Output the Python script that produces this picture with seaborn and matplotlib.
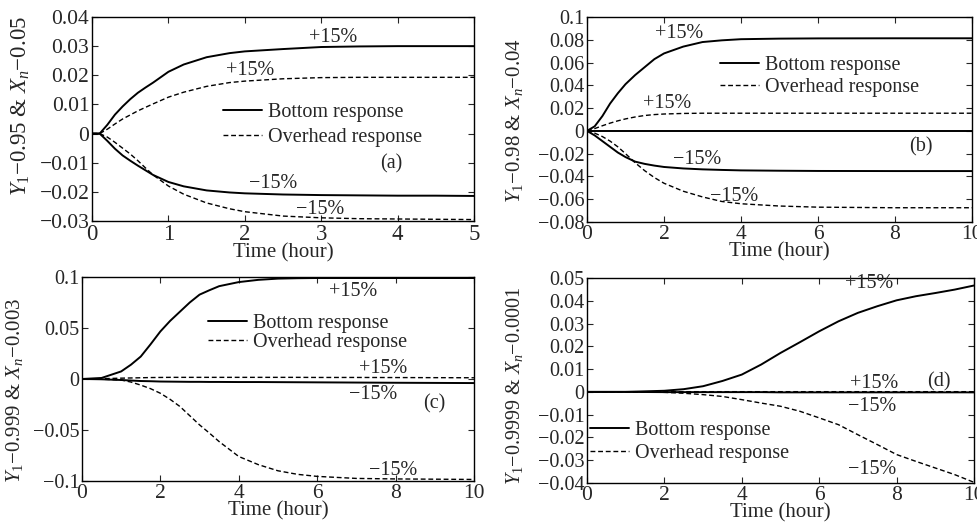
import matplotlib
matplotlib.use("Agg")
import matplotlib.pyplot as plt
import seaborn as sns

# ---------------- data ----------------
# Panel (a)
ta = [0, 0.1, 0.2, 0.3, 0.4, 0.5, 0.6, 0.7, 0.8, 1.0, 1.2, 1.5, 1.8, 2.0, 2.5, 3.0, 3.5, 4.0, 4.5, 5.0]
a_bot_p = [0, 0, 0.003, 0.0065, 0.0093, 0.0118, 0.014, 0.0158, 0.0175, 0.0212, 0.0237, 0.0262, 0.0276, 0.0282, 0.029, 0.0297, 0.0299, 0.030, 0.030, 0.030]
a_ovh_p = [0, 0, 0.0015, 0.0033, 0.0050, 0.0064, 0.0078, 0.0090, 0.0102, 0.0125, 0.0142, 0.0162, 0.0175, 0.0180, 0.0188, 0.0192, 0.0193, 0.0193, 0.0193, 0.0193]
a_bot_m = [0, 0, -0.0025, -0.0052, -0.0075, -0.0093, -0.011, -0.0126, -0.0142, -0.0166, -0.0181, -0.0195, -0.0202, -0.0205, -0.0209, -0.0211, -0.0212, -0.0213, -0.0213, -0.0214]
a_ovh_m = [0, 0, -0.0012, -0.0030, -0.0050, -0.0070, -0.0093, -0.0118, -0.0142, -0.0180, -0.0208, -0.0238, -0.0258, -0.0268, -0.0283, -0.0289, -0.0292, -0.0293, -0.0294, -0.0295]

# Panel (b)
tb = [0, 0.2, 0.4, 0.6, 0.8, 1.0, 1.25, 1.5, 1.75, 2.0, 2.5, 3.0, 3.5, 4.0, 5.0, 6.0, 8.0, 10.0]
b_bot_p = [0, 0.004, 0.013, 0.024, 0.033, 0.041, 0.049, 0.056, 0.063, 0.068, 0.074, 0.078, 0.0795, 0.0805, 0.081, 0.0812, 0.0813, 0.0813]
b_ovh_p = [0, 0.002, 0.0045, 0.0068, 0.0088, 0.0105, 0.0122, 0.0135, 0.0143, 0.0148, 0.0153, 0.0155, 0.0155, 0.0155, 0.0155, 0.0155, 0.0155, 0.0155]
b_bot_m = [0, -0.004, -0.009, -0.014, -0.019, -0.023, -0.027, -0.029, -0.0305, -0.0317, -0.0330, -0.0338, -0.0343, -0.0347, -0.035, -0.0352, -0.0353, -0.0353]
b_ovh_m = [0, -0.002, -0.005, -0.009, -0.014, -0.020, -0.028, -0.035, -0.041, -0.046, -0.053, -0.058, -0.062, -0.064, -0.066, -0.067, -0.0675, -0.0675]
b_zero = [0] * len(tb)

# Panel (c)
tc = [0, 0.5, 1.0, 1.25, 1.5, 1.75, 2.0, 2.25, 2.5, 2.75, 3.0, 3.25, 3.5, 4.0, 4.5, 5.0, 5.5, 6.0, 7.0, 8.0, 10.0]
c_bot_p = [0, 0.001, 0.0074, 0.014, 0.022, 0.034, 0.0466, 0.057, 0.066, 0.075, 0.0827, 0.087, 0.091, 0.095, 0.0972, 0.0984, 0.0988, 0.099, 0.099, 0.099, 0.099]
c_ovh_p = [0, 0.0003, 0.0008, 0.001, 0.0012, 0.0014, 0.0015, 0.0016, 0.0016, 0.0016, 0.0016, 0.0016, 0.0016, 0.0016, 0.0016, 0.0016, 0.0016, 0.0015, 0.0015, 0.0014, 0.0012]
c_bot_m = [0, -0.0003, -0.001, -0.0015, -0.002, -0.0022, -0.0025, -0.0026, -0.0027, -0.0028, -0.0028, -0.0029, -0.0029, -0.003, -0.003, -0.0031, -0.0032, -0.0033, -0.0035, -0.0037, -0.004]
c_ovh_m = [0, -0.0002, -0.001, -0.003, -0.006, -0.0095, -0.014, -0.020, -0.027, -0.036, -0.045, -0.053, -0.0614, -0.076, -0.084, -0.090, -0.0935, -0.0955, -0.0975, -0.098, -0.0985]

# Panel (d)
td = [0, 1.0, 2.0, 2.5, 3.0, 3.5, 4.0, 4.5, 5.0, 5.5, 6.0, 6.5, 7.0, 7.5, 8.0, 8.5, 9.0, 9.5, 10.0]
d_bot_p = [0, 0, 0.0005, 0.0012, 0.0025, 0.0048, 0.0076, 0.012, 0.0171, 0.0218, 0.0266, 0.031, 0.0347, 0.0376, 0.0402, 0.042, 0.0434, 0.0449, 0.0467]
d_ovh_p = [0, 0, 0.0001, 0.0001, 0.0001, 0.0001, 0.0001, 0.0001, 0.0001, 0.0001, 0.0001, 0.0001, 0.0001, 0.0001, 0.0001, 0.0001, 0.0001, 0.0001, 0.0001]
d_bot_m = [0, 0, -0.0001, -0.0001, -0.0001, -0.0001, -0.0001, -0.0001, -0.0002, -0.0002, -0.0002, -0.0002, -0.0002, -0.0002, -0.0002, -0.0002, -0.0002, -0.0002, -0.0002]
d_ovh_m = [0, 0, -0.0002, -0.0006, -0.0012, -0.002, -0.0034, -0.0049, -0.0063, -0.0085, -0.0114, -0.0144, -0.0188, -0.0231, -0.0275, -0.0305, -0.0334, -0.0363, -0.0397]

# ticks
M = "\u2212"
a_yticks = [-0.03, -0.02, -0.01, 0, 0.01, 0.02, 0.03, 0.04]
a_ylabels = [M + "0.03", M + "0.02", M + "0.01", "0", "0.01", "0.02", "0.03", "0.04"]
a_xticks = [0, 1, 2, 3, 4, 5]
b_yticks = [-0.08, -0.06, -0.04, -0.02, 0, 0.02, 0.04, 0.06, 0.08, 0.1]
b_ylabels = [M + "0.08", M + "0.06", M + "0.04", M + "0.02", "0", "0.02", "0.04", "0.06", "0.08", "0.1"]
c_yticks = [-0.1, -0.05, 0, 0.05, 0.1]
c_ylabels = [M + "0.1", M + "0.05", "0", "0.05", "0.1"]
d_yticks = [-0.04, -0.03, -0.02, -0.01, 0, 0.01, 0.02, 0.03, 0.04, 0.05]
d_ylabels = [M + "0.04", M + "0.03", M + "0.02", M + "0.01", "0", "0.01", "0.02", "0.03", "0.04", "0.05"]
x10_ticks = [0, 2, 4, 6, 8, 10]

ylabels = ["$Y_1$" + M + "0.95 & $X_n$" + M + "0.05",
           "$Y_1$" + M + "0.98 & $X_n$" + M + "0.04",
           "$Y_1$" + M + "0.999 & $X_n$" + M + "0.003",
           "$Y_1$" + M + "0.9999 & $X_n$" + M + "0.0001"]
xlabel = "Time (hour)"
legend_labels = ["Bottom response", "Overhead response"]
panel_tags = ["(a)", "(b)", "(c)", "(d)"]
plus, minus = "+15%", M + "15%"

# ---------------- style ----------------
sns.set_style("ticks")
plt.rcParams["font.family"] = ["Liberation Serif", "DejaVu Serif"]
plt.rcParams["mathtext.fontset"] = "custom"
plt.rcParams["mathtext.rm"] = "Liberation Serif"
plt.rcParams["mathtext.it"] = "Liberation Serif:italic"

fig = plt.figure(figsize=(9.78, 5.26), dpi=100)
ax_a = fig.add_axes([0.0941, 0.5798, 0.3906, 0.3879])
ax_b = fig.add_axes([0.6002, 0.5780, 0.3937, 0.3897])
ax_c = fig.add_axes([0.0838, 0.0856, 0.4008, 0.3878])
ax_d = fig.add_axes([0.6002, 0.0817, 0.3957, 0.3898])

DASHES = (3.5, 2.0)


def draw(ax, t, bp, op, bm, om):
    sns.lineplot(x=t, y=bp, ax=ax, color="black", linewidth=1.4, label=legend_labels[0])
    sns.lineplot(x=t, y=op, ax=ax, color="black", linewidth=1.0, label=legend_labels[1])
    ax.lines[-1].set_dashes(DASHES)
    sns.lineplot(x=t, y=bm, ax=ax, color="black", linewidth=1.4)
    sns.lineplot(x=t, y=om, ax=ax, color="black", linewidth=1.0)
    ax.lines[-1].set_dashes(DASHES)


def finish(ax, xlim, ylim, xt, yt, yl, tfs, ylab, yfs, labxy, legxy, legsp, tag, tagxy, annots):
    ax.set_xlim(*xlim)
    ax.set_ylim(*ylim)
    ax.set_xticks(xt)
    ax.set_xticklabels([str(v) for v in xt], fontsize=tfs + 1)
    ax.set_yticks(yt)
    ax.set_yticklabels(yl, fontsize=tfs)
    ax.tick_params(direction="in", length=4, width=0.8, top=True, right=True, pad=2)
    for s in ax.spines.values():
        s.set_linewidth(1.0)
        s.set_color("black")
    ax.set_xlabel(xlabel, fontsize=15, labelpad=-1)
    ax.set_ylabel(ylab, fontsize=yfs)
    ax.yaxis.set_label_coords(*labxy)
    ax.legend(frameon=False, fontsize=14.5, handlelength=1.95, handletextpad=0.3,
              labelspacing=legsp, borderaxespad=0, borderpad=0,
              loc="upper left", bbox_to_anchor=legxy)
    ax.text(tagxy[0], tagxy[1], tag, fontsize=14.5, ha="center", va="center")
    for (x, y, s) in annots:
        ax.text(x, y, s, fontsize=14.5, ha="center", va="center")


draw(ax_a, ta, a_bot_p, a_ovh_p, a_bot_m, a_ovh_m)
finish(ax_a, (0, 5), (-0.03, 0.04), a_xticks, a_yticks, a_ylabels, 15.5, ylabels[0], 16.5,
       (-0.157, 0.564), (0.343, 0.58), 0.3, panel_tags[0], (3.92, -0.0103),
       [(3.16, 0.0328, plus), (2.07, 0.0217, plus), (2.37, -0.0171, minus), (2.98, -0.026, minus)])

draw(ax_b, tb, b_bot_p, b_ovh_p, b_bot_m, b_ovh_m)
sns.lineplot(x=tb, y=b_zero, ax=ax_b, color="black", linewidth=1.4)
finish(ax_b, (0, 10), (-0.08, 0.1), x10_ticks, b_yticks, b_ylabels, 14.5, ylabels[1], 15,
       (-0.161, 0.493), (0.345, 0.812), 0.15, panel_tags[1], (8.68, -0.0142),
       [(2.4, 0.0854, plus), (2.08, 0.0239, plus), (2.86, -0.0253, minus), (3.83, -0.058, minus)])

draw(ax_c, tc, c_bot_p, c_ovh_p, c_bot_m, c_ovh_m)
finish(ax_c, (0, 10), (-0.1, 0.1), x10_ticks, c_yticks, c_ylabels, 14.5, ylabels[2], 15,
       (-0.145, 0.446), (0.321, 0.818), 0.0, panel_tags[2], (9.0, -0.0244),
       [(6.92, 0.086, plus), (7.69, 0.0106, plus), (7.43, -0.0155, minus), (7.94, -0.0898, minus)])

draw(ax_d, td, d_bot_p, d_ovh_p, d_bot_m, d_ovh_m)
finish(ax_d, (0, 10), (-0.04, 0.05), x10_ticks, d_yticks, d_ylabels, 14.5, ylabels[3], 14.5,
       (-0.160, 0.473), (0.008, 0.305), 0.2, panel_tags[3], (9.09, 0.0046),
       [(7.28, 0.0478, plus), (7.41, 0.0039, plus), (7.36, -0.0064, minus), (7.36, -0.0342, minus)])

fig.savefig("out.png", dpi=100)
